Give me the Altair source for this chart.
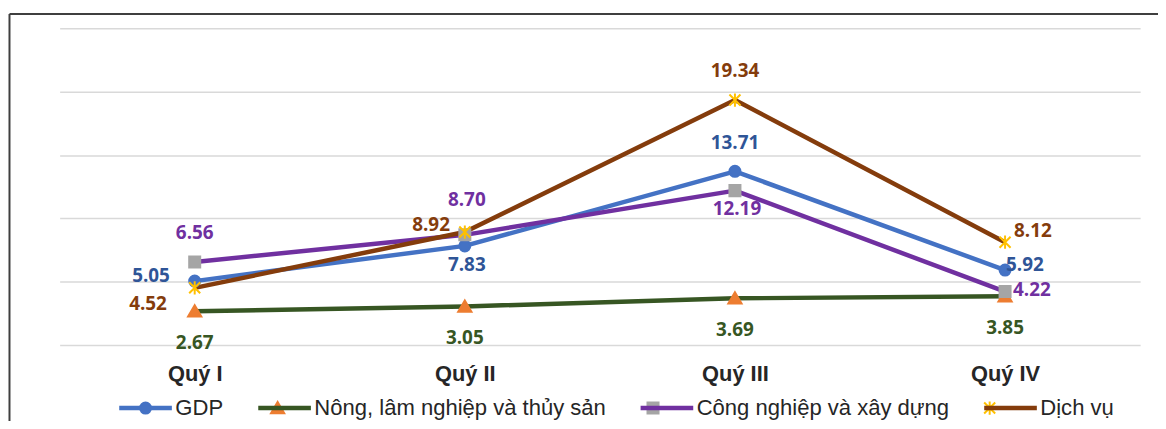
import altair as alt
import pandas as pd

quarters = ["Quý I", "Quý II", "Quý III", "Quý IV"]
series = ["GDP", "Nông, lâm nghiệp và thủy sản", "Công nghiệp và xây dựng", "Dịch vụ"]

gdp = [5.05, 7.83, 13.71, 5.92]
nong = [2.67, 3.05, 3.69, 3.85]
cong = [6.56, 8.70, 12.19, 4.22]
dich = [4.52, 8.92, 19.34, 8.12]

# data-label placement per point (like Excel's label position)
gdp_pos = ["left", "below", "above", "right"]
nong_pos = ["below_far", "below_far", "below_far", "below_far"]
cong_pos = ["above", "above_high", "below", "right_low"]
dich_pos = ["left_low", "left_high", "above", "right_high"]

line_colors = ["#4472C4", "#375623", "#7030A0", "#843C0C"]
marker_colors = ["#4472C4", "#ED7D31", "#A5A5A5", "#FFC000"]
label_colors = ["#2F5597", "#375623", "#7030A0", "#843C0C"]

# marker shapes (unit-square paths, scaled by symbol size)
shape_paths = [
    "M0.2,0A0.2,0.2,0,1,1,-0.2,0A0.2,0.2,0,1,1,0.2,0Z",
    "M0,-0.22L0.24,0.19L-0.24,0.19Z",
    "M-0.2,-0.2H0.2V0.2H-0.2Z",
    "M-0.2,-0.2L0.2,0.2M-0.2,0.2L0.2,-0.2M0,-0.24L0,0.24",
]

placements = {
    "left": (-25, -5, "right"),
    "left_low": (-28, 16, "right"),
    "left_high": (-15, -7, "right"),
    "above": (0, -29, "center"),
    "above_high": (2, -35, "center"),
    "below": (2, 19, "center"),
    "below_far": (0, 32, "center"),
    "right": (1, -5, "left"),
    "right_low": (8, -2, "left"),
    "right_high": (9, -11, "left"),
}

rows = []
for name, vals, pos in zip(series, [gdp, nong, cong, dich], [gdp_pos, nong_pos, cong_pos, dich_pos]):
    for q, v, p in zip(quarters, vals, pos):
        rows.append({"quarter": q, "series": name, "value": v, "pos": p})
df = pd.DataFrame(rows)

x_enc = alt.X(
    "quarter:N", sort=quarters,
    scale=alt.Scale(type="point", padding=0.5),
    axis=alt.Axis(title=None, labelAngle=0, ticks=False, tickSize=0, domain=False, grid=False,
                  labelFont="Liberation Sans", labelFontWeight="bold", labelFontSize=22,
                  labelColor="#262626", labelPadding=19),
)
y_enc = alt.Y(
    "value:Q",
    scale=alt.Scale(domain=[0, 25], nice=False, zero=True),
    axis=alt.Axis(title=None, values=[0, 5, 10, 15, 20, 25], labels=False, ticks=False,
                  domain=False, grid=True, gridColor="#D9D9D9", gridWidth=1.5),
)

common_leg = dict(title=None, orient="none", legendX=57.5, legendY=353, direction="horizontal",
                  labelFont="Liberation Sans", labelFontSize=22.2, labelColor="#262626",
                  labelOffset=1, columnPadding=25, labelLimit=500, padding=0)

line_leg = alt.Legend(symbolType="stroke", symbolStrokeWidth=4.5, symbolSize=2809, **common_leg)
mark_leg = alt.Legend(symbolStrokeWidth=2, symbolSize=3080, labelOpacity=0, **common_leg)

base = alt.Chart(df)

lines = base.mark_line(strokeWidth=4.5, strokeJoin="round").encode(
    x=x_enc, y=y_enc,
    color=alt.Color("series:N", sort=series,
                    scale=alt.Scale(domain=series, range=line_colors), legend=line_leg),
    order=alt.Order("quarter:N"),
)

points = base.transform_calculate(marker="datum.series").mark_point(
    filled=True, size=3080, opacity=1, strokeWidth=2
).encode(
    x=x_enc, y=y_enc,
    fill=alt.Fill("marker:N", scale=alt.Scale(domain=series, range=marker_colors), legend=mark_leg),
    stroke=alt.Stroke("marker:N", scale=alt.Scale(domain=series, range=marker_colors), legend=mark_leg),
    shape=alt.Shape("marker:N", scale=alt.Scale(domain=series, range=shape_paths), legend=mark_leg),
)

texts = []
for name, (dx, dy, align) in placements.items():
    texts.append(
        base.transform_filter(alt.datum.pos == name).mark_text(
            dx=dx, dy=dy, align=align, baseline="middle",
            font="Open Sans", fontSize=19, fontWeight="bold",
        ).encode(
            x=x_enc, y=y_enc,
            text=alt.Text("value:Q", format=".2f"),
            color=alt.Color("series:N", scale=alt.Scale(domain=series, range=label_colors), legend=None),
        )
    )

frame_df = pd.DataFrame({"k": [0]})
frame_top = alt.Chart(frame_df).mark_rule(color="#3F3F3F", strokeWidth=2).encode(
    x=alt.value(-50.5), x2=alt.value(1200), y=alt.value(-14.5)
)
frame_left = alt.Chart(frame_df).mark_rule(color="#3F3F3F", strokeWidth=2).encode(
    x=alt.value(-50.5), y=alt.value(-14.5), y2=alt.value(500)
)

chart = alt.layer(lines, points, *texts, frame_top, frame_left).resolve_scale(
    color="independent"
).properties(
    width=1088, height=319,
    autosize=alt.AutoSizeParams(type="none"),
    padding={"left": 52, "top": 19, "right": 18, "bottom": 75},
).configure_view(stroke=None)

chart.save("out.html", embed_options={"renderer": "svg", "actions": False})
